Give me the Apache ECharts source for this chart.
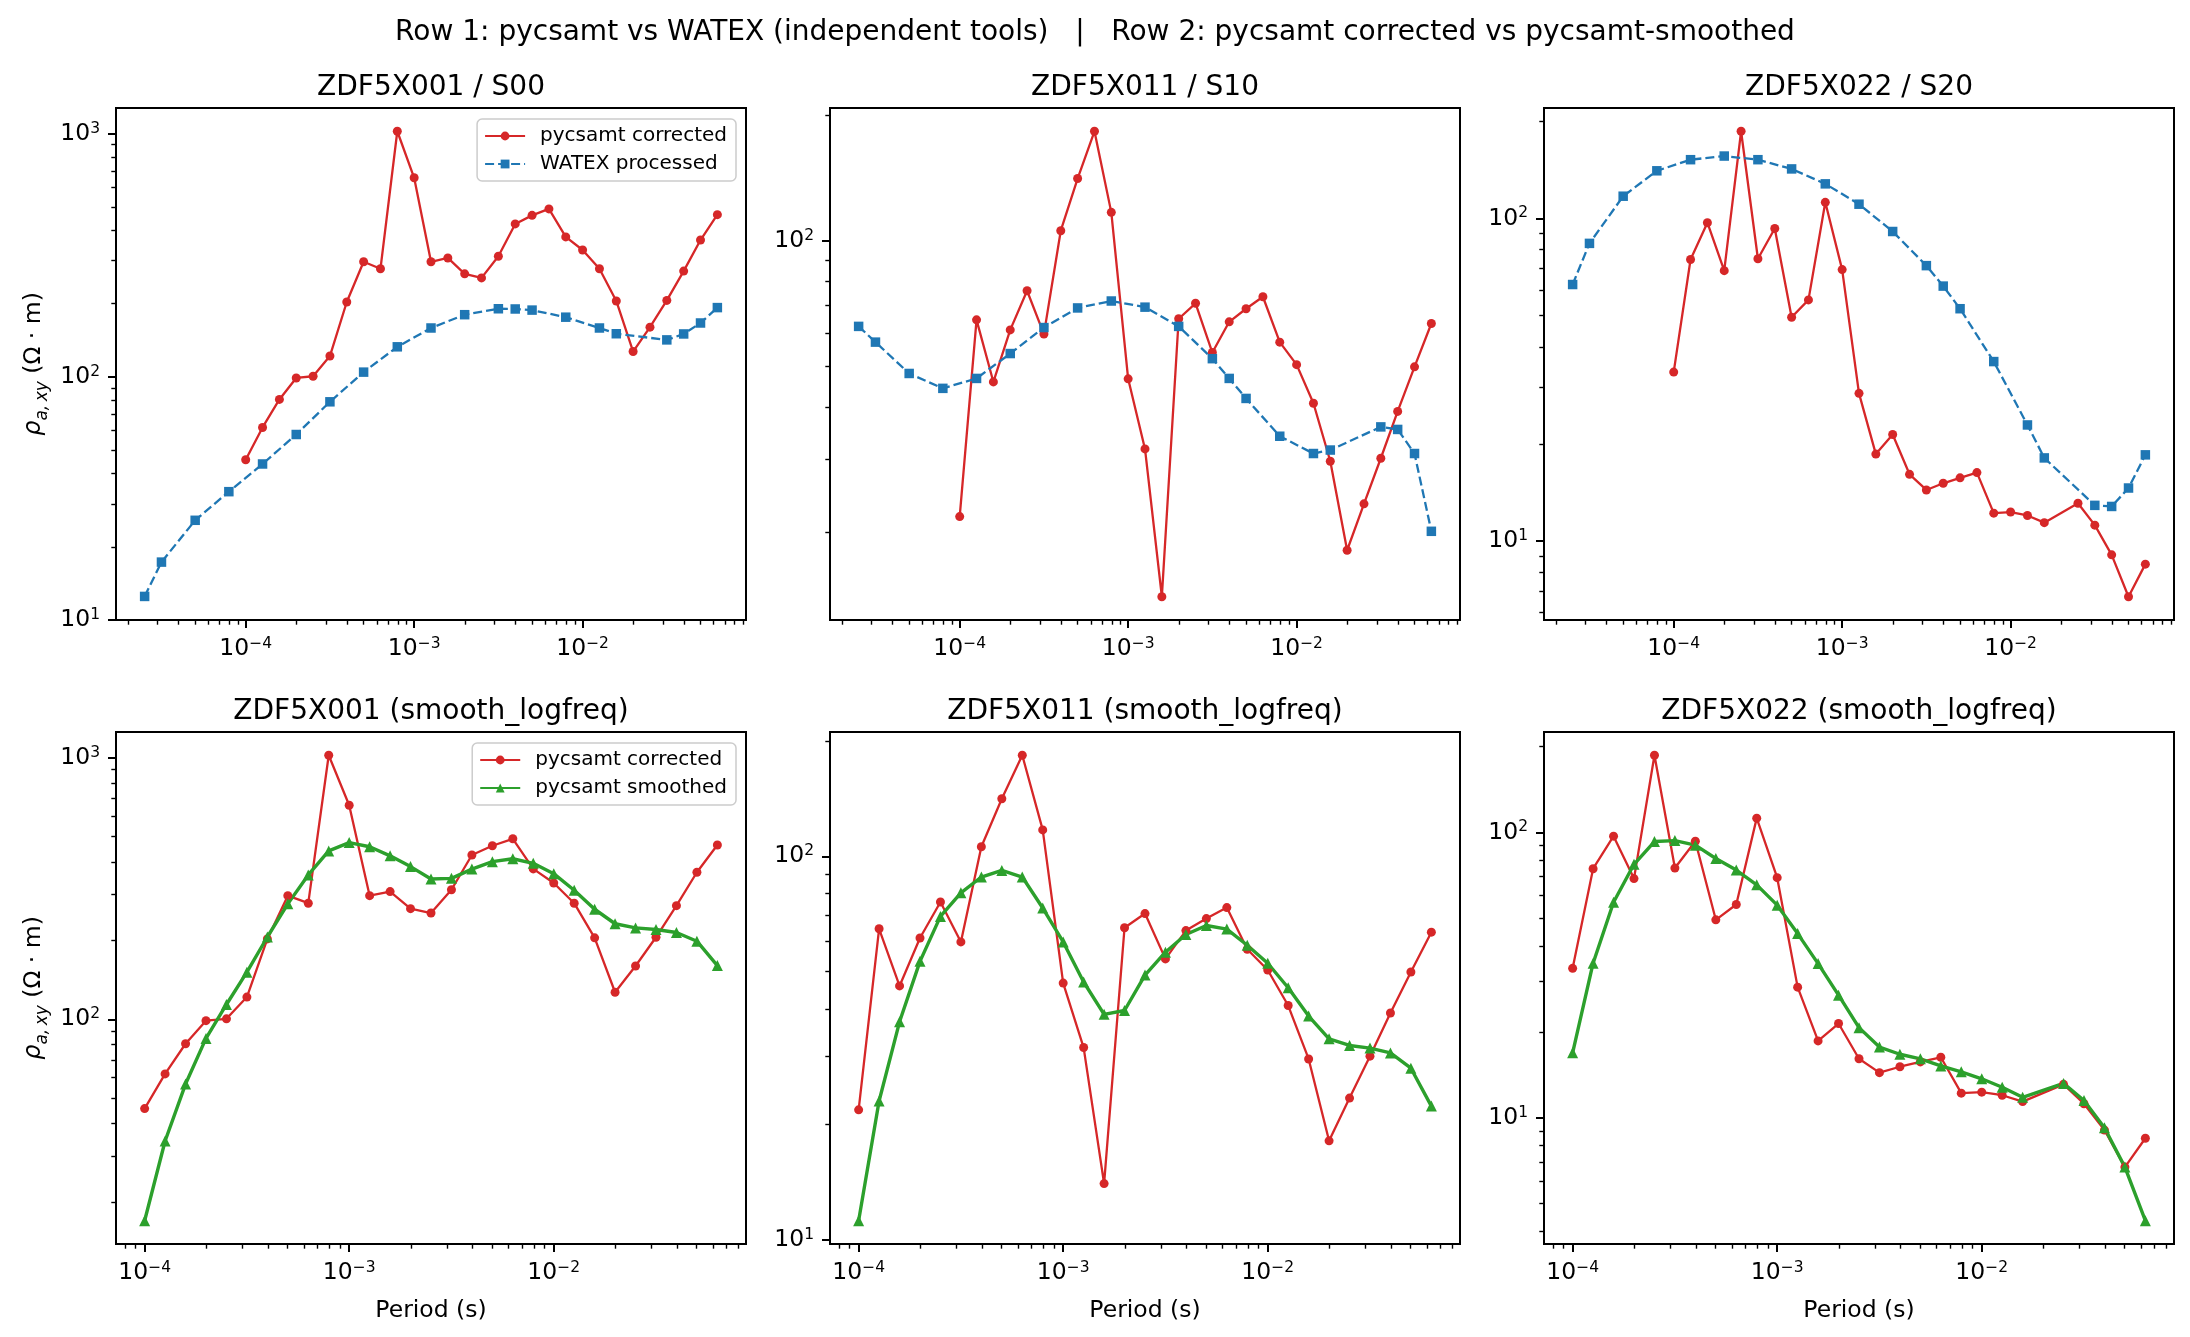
<!DOCTYPE html>
<html lang="en">
<head>
<meta charset="UTF-8">
<title>pycsamt vs WATEX</title>
<script src="https://cdn.jsdelivr.net/npm/echarts@6/dist/echarts.min.js"></script>
<style>
    html, body { margin: 0; padding: 0; background: #ffffff; }
    #chart { width: 2190px; height: 1337px; }
</style>
</head>
<body>
<div id="chart"></div>
<script>
// periods (s) of the pycsamt frequency set and of the WATEX set
var periods = [1.000e-4, 1.259e-4, 1.585e-4, 1.995e-4, 2.512e-4, 3.162e-4, 3.981e-4, 5.012e-4, 6.310e-4, 7.943e-4,
    1.000e-3, 1.259e-3, 1.585e-3, 1.995e-3, 2.512e-3, 3.162e-3, 3.981e-3, 5.012e-3, 6.310e-3, 7.943e-3,
    1.000e-2, 1.259e-2, 1.585e-2, 1.995e-2, 2.512e-2, 3.162e-2, 3.981e-2, 5.012e-2, 6.310e-2];
var watexPeriods = [2.512e-5, 3.162e-5, 5.012e-5, 7.943e-5, 1.259e-4, 1.995e-4, 3.162e-4, 5.012e-4, 7.943e-4,
    1.259e-3, 1.995e-3, 3.162e-3, 3.981e-3, 5.012e-3, 7.943e-3, 1.259e-2, 1.585e-2, 3.162e-2, 3.981e-2,
    5.012e-2, 6.310e-2];

// apparent resistivity (ohm.m), null = no sample
var corrected001 = [45.6, 61.9, 80.7, 98.9, 100.5, 121.7, 203, 297, 278, 1022, 658, 297, 308, 265, 255,
    313, 425, 461, 490, 376, 332, 278, 205, 127, 160, 206, 272, 365, 464];
var watex001 = [12.5, 17.3, 25.7, 33.7, 43.8, 57.9, 78.9, 104.5, 132.8, 158.7, 180, 190.4, 190, 188, 175.8,
    158.7, 150.3, 141.8, 150, 166.4, 192.5];
var smoothed001 = [17.0, 34.3, 56.6, 84.6, 114, 151.5, 206.5, 276.4, 356.6, 440.6, 473.8, 457, 421.7, 383.6,
    343.9, 346, 375.3, 400.6, 411, 395, 360.6, 311.7, 263.6, 232, 223.7, 220.5, 214.9, 199, 160.6];

var corrected011 = [21.8, 64.7, 45.9, 61.2, 76.0, 59.8, 105.9, 141.3, 183.5, 117.2, 46.7, 31.7, 14.0, 65.1,
    70.9, 54.0, 64.0, 68.8, 73.5, 57.2, 50.5, 40.8, 29.6, 18.1, 23.4, 30.1, 39.0, 49.9, 63.4];
var watex011 = [62.4, 57.2, 48.1, 44.3, 46.8, 53.7, 62.0, 69.1, 71.8, 69.4, 62.4, 52.2, 46.8, 41.9, 34.0,
    30.9, 31.5, 35.8, 35.3, 30.9, 20.1];
var smoothed011 = [11.2, 23.0, 37.0, 53.2, 69.7, 80.3, 88.3, 91.9, 88.3, 73.3, 59.8, 47.0, 38.7, 39.6, 49.0,
    56.2, 62.5, 66.0, 64.6, 58.6, 52.6, 45.4, 38.3, 33.4, 32.1, 31.6, 30.7, 28.0, 22.3];

var corrected022 = [33.4, 74.6, 97.0, 68.9, 186.3, 75.0, 93.1, 49.4, 55.9, 112.2, 69.4, 28.7, 18.6, 21.4,
    16.1, 14.4, 15.1, 15.7, 16.3, 12.2, 12.3, 12.0, 11.4, null, 13.1, 11.2, 9.06, 6.72, 8.48];
var watex022 = [62.4, 83.7, 117.2, 140.5, 152.1, 156.1, 152.1, 142.4, 128, 110.7, 91.1, 71.4, 61.7, 52.5,
    36.0, 22.9, 18.1, 12.9, 12.8, 14.6, 18.5];
var smoothed022 = [16.9, 34.8, 56.9, 77.3, 92.9, 93.6, 90.2, 81.0, 73.8, 65.5, 55.6, 44.2, 34.7, 26.9, 20.7,
    17.7, 16.7, 16.1, 15.2, 14.5, 13.7, 12.8, 11.8, null, 13.2, 11.5, 9.23, 6.72, 4.36];

var RED = '#d62728', BLUE = '#1f77b4', GREEN = '#2ca02c';
var FONT = 'DejaVu Sans';

var gridLefts = [116, 830, 1544];
var gridTops = [108, 732];
var GRID_W = 630, GRID_H = 512;

function pairs(xs, ys) {
    var out = [];
    for (var i = 0; i < ys.length; i++) {
        if (ys[i] != null) out.push([xs[i], ys[i]]);
    }
    return out;
}

// matplotlib-like autoscale: 5% margin in log space
function padRange(lists) {
    var lo = Infinity, hi = -Infinity;
    lists.forEach(function (arr) {
        arr.forEach(function (v) {
            if (v == null) return;
            var l = Math.log10(v);
            if (l < lo) lo = l;
            if (l > hi) hi = l;
        });
    });
    var m = (hi - lo) * 0.05;
    lo -= m; hi += m;
    if (lo - Math.floor(lo) < 0.01) lo = Math.floor(lo);
    if (Math.ceil(hi) - hi < 0.01) hi = Math.ceil(hi);
    return [Math.pow(10, lo), Math.pow(10, hi)];
}

function majorTicks(r) {
    var out = [];
    for (var e = Math.floor(Math.log10(r[0])); e <= Math.ceil(Math.log10(r[1])); e++) {
        var v = Number('1e' + e);
        if (v >= r[0] && v <= r[1]) out.push(v);
    }
    return out;
}

function minorTicks(r) {
    var out = [];
    for (var e = Math.floor(Math.log10(r[0])); e <= Math.ceil(Math.log10(r[1])); e++) {
        for (var k = 2; k <= 9; k++) {
            var v = Number(k + 'e' + e);
            if (v >= r[0] && v <= r[1]) out.push(v);
        }
    }
    return out;
}

function powLabel(v) {
    var e = Math.round(Math.log10(v));
    return '{b|10}{s|' + (e < 0 ? '\u2212' : '') + Math.abs(e) + '}';
}

var tickRich = {
    b: { fontSize: 23.5, lineHeight: 26, color: '#000', fontFamily: FONT },
    s: { fontSize: 15.5, lineHeight: 14, verticalAlign: 'top', color: '#000', fontFamily: FONT }
};

var panels = [
    { title: 'ZDF5X001 / S00', red: corrected001, other: watex001, kind: 'watex' },
    { title: 'ZDF5X011 / S10', red: corrected011, other: watex011, kind: 'watex' },
    { title: 'ZDF5X022 / S20', red: corrected022, other: watex022, kind: 'watex' },
    { title: 'ZDF5X001 (smooth_logfreq)', red: corrected001, other: smoothed001, kind: 'smooth' },
    { title: 'ZDF5X011 (smooth_logfreq)', red: corrected011, other: smoothed011, kind: 'smooth' },
    { title: 'ZDF5X022 (smooth_logfreq)', red: corrected022, other: smoothed022, kind: 'smooth' }
];

var grids = [], xAxes = [], yAxes = [], series = [], titles = [], legends = [];

titles.push({
    text: 'Row 1: pycsamt vs WATEX (independent tools)   |   Row 2: pycsamt corrected vs pycsamt-smoothed',
    left: 1095, top: 33, textAlign: 'center', textVerticalAlign: 'middle', padding: 0,
    textStyle: { fontSize: 28, fontWeight: 'normal', color: '#000', fontFamily: FONT }
});

panels.forEach(function (p, i) {
    var row = Math.floor(i / 3), col = i % 3;
    var left = gridLefts[col], top = gridTops[row];
    var otherX = p.kind === 'watex' ? watexPeriods : periods;

    grids.push({
        left: left, top: top, width: GRID_W, height: GRID_H,
        containLabel: false, outerBoundsMode: 'none',
        show: true, borderColor: '#000', borderWidth: 2, backgroundColor: 'transparent'
    });

    titles.push({
        text: p.title, left: left + GRID_W / 2, top: top - 20, textAlign: 'center',
        textVerticalAlign: 'middle', padding: 0,
        textStyle: { fontSize: 28, fontWeight: 'normal', color: '#000', fontFamily: FONT }
    });

    var xr = padRange([row === 0 ? watexPeriods : periods]);
    var yr = padRange([p.red, p.other]);

    // major x axis
    xAxes.push({
        type: 'log', gridIndex: i, position: 'bottom', min: xr[0], max: xr[1],
        axisLine: { show: false }, splitLine: { show: false },
        axisTick: { show: true, length: 8, lineStyle: { color: '#000', width: 2 }, customValues: majorTicks(xr) },
        axisLabel: { customValues: majorTicks(xr), formatter: powLabel, margin: 16, rich: tickRich },
        name: row === 1 ? 'Period (s)' : '', nameLocation: 'middle', nameGap: 55,
        nameTextStyle: { fontSize: 23.5, color: '#000', fontFamily: FONT }
    });
    // minor x ticks
    xAxes.push({
        type: 'log', gridIndex: i, position: 'bottom', min: xr[0], max: xr[1],
        axisLine: { show: false }, splitLine: { show: false }, axisLabel: { show: false },
        axisTick: { show: true, length: 4.7, lineStyle: { color: '#000', width: 1.4 }, customValues: minorTicks(xr) }
    });

    yAxes.push({
        type: 'log', gridIndex: i, position: 'left', min: yr[0], max: yr[1],
        axisLine: { show: false }, splitLine: { show: false },
        axisTick: { show: true, length: 8, lineStyle: { color: '#000', width: 2 }, customValues: majorTicks(yr) },
        axisLabel: { customValues: majorTicks(yr), formatter: powLabel, margin: 16, rich: tickRich },
        name: col === 0 ? '{i|\u03c1}{sub|a,\u2009xy}{n| (\u03a9 \u00b7 m)}' : '',
        nameLocation: 'middle', nameRotate: 90, nameGap: 65,
        nameTextStyle: {
            color: '#000', fontFamily: FONT,
            rich: {
                i: { fontSize: 24, lineHeight: 34, fontStyle: 'italic', color: '#000', fontFamily: FONT },
                sub: { fontSize: 17, lineHeight: 17, fontStyle: 'italic', verticalAlign: 'bottom', color: '#000', fontFamily: FONT },
                n: { fontSize: 23.5, lineHeight: 34, color: '#000', fontFamily: FONT }
            }
        }
    });
    yAxes.push({
        type: 'log', gridIndex: i, position: 'left', min: yr[0], max: yr[1],
        axisLine: { show: false }, splitLine: { show: false }, axisLabel: { show: false },
        axisTick: { show: true, length: 4.7, lineStyle: { color: '#000', width: 1.4 }, customValues: minorTicks(yr) }
    });

    series.push({
        name: 'pycsamt corrected', type: 'line', xAxisIndex: 2 * i, yAxisIndex: 2 * i,
        data: pairs(periods, p.red), symbol: 'circle', symbolSize: 9,
        lineStyle: { color: RED, width: 2.3 }, itemStyle: { color: RED },
        emphasis: { disabled: true }, silent: true
    });
    if (p.kind === 'watex') {
        series.push({
            name: 'WATEX processed', type: 'line', xAxisIndex: 2 * i, yAxisIndex: 2 * i,
            data: pairs(otherX, p.other), symbol: 'rect', symbolSize: 9.5,
            lineStyle: { color: BLUE, width: 2.3, type: [9, 4] }, itemStyle: { color: BLUE },
            emphasis: { disabled: true }, silent: true
        });
    } else {
        series.push({
            name: 'pycsamt smoothed', type: 'line', xAxisIndex: 2 * i, yAxisIndex: 2 * i,
            data: pairs(otherX, p.other), symbol: 'triangle', symbolSize: 11,
            lineStyle: { color: GREEN, width: 3.4 }, itemStyle: { color: GREEN },
            emphasis: { disabled: true }, silent: true
        });
    }

    if (col === 0) {
        legends.push({
            data: row === 0 ? ['pycsamt corrected', 'WATEX processed'] : ['pycsamt corrected', 'pycsamt smoothed'],
            orient: 'vertical', right: 2190 - (left + GRID_W - 10), top: top + 11,
            itemWidth: 40, itemHeight: 11, itemGap: 8,
            padding: [7, 9, 7, 7],
            backgroundColor: 'rgba(255,255,255,0.8)', borderColor: '#cccccc', borderWidth: 1.5, borderRadius: 5,
            textStyle: { fontSize: 20, color: '#000', fontFamily: FONT, padding: [0, 0, 0, 10] },
            selectedMode: false
        });
    }
});

var chart = echarts.init(document.getElementById('chart'));
chart.setOption({
    animation: false,
    backgroundColor: '#ffffff',
    title: titles,
    legend: legends,
    grid: grids,
    xAxis: xAxes,
    yAxis: yAxes,
    series: series
});
</script>
</body>
</html>
